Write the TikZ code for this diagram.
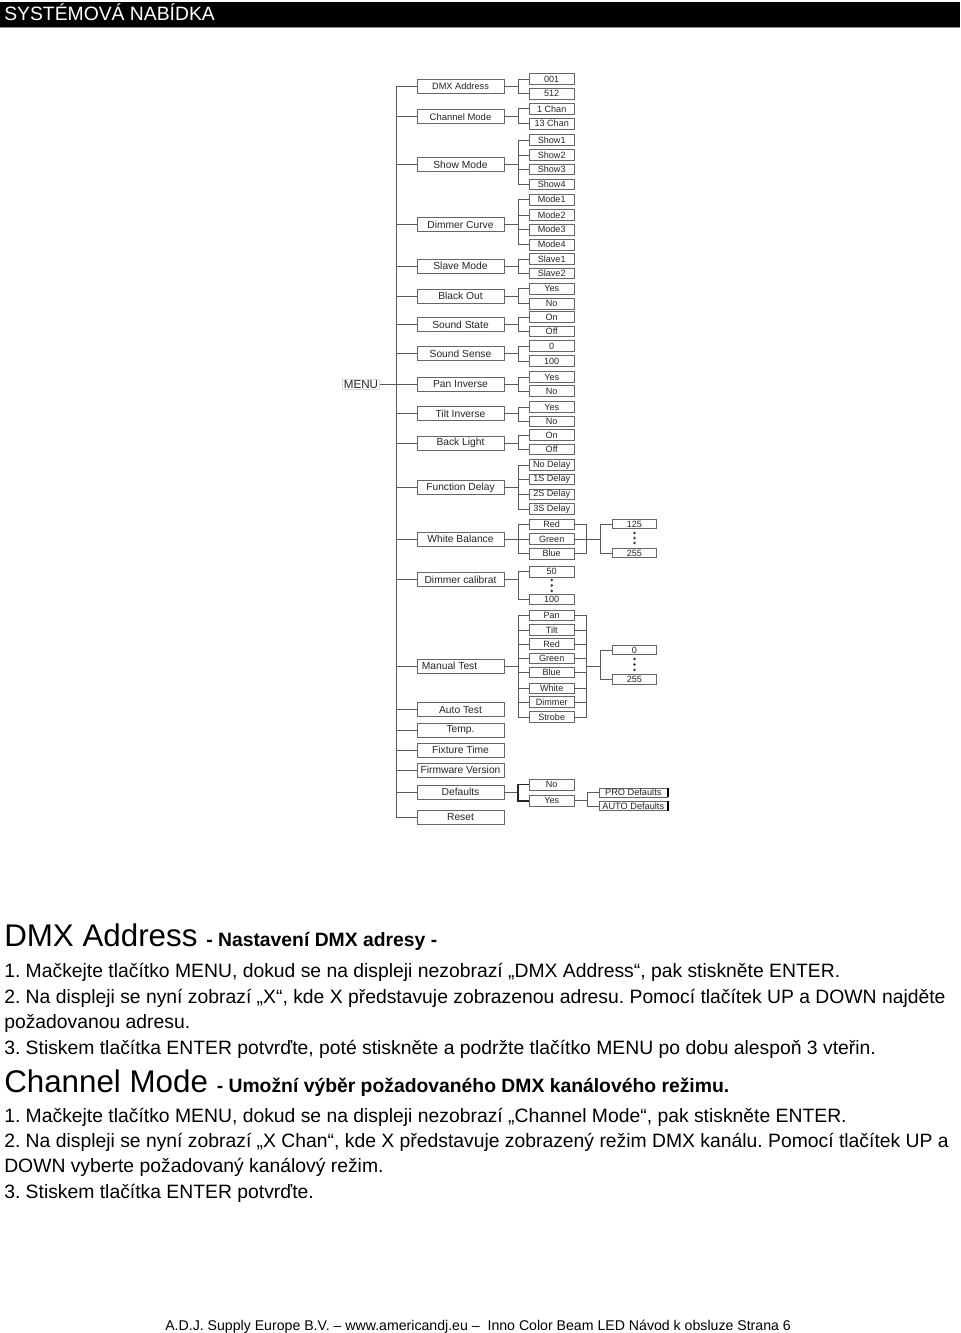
\documentclass[tikz,border=0pt]{standalone}
\usepackage{fontspec}
\setmainfont{Liberation Sans}
\frenchspacing
\begin{document}
\begin{tikzpicture}[x=0.75pt,y=-0.75pt,
  conn/.style={draw=black!65, line width=0.65pt},
  mainbox/.style={draw=black!60, line width=0.65pt, minimum width=65.25pt, minimum height=10.5pt, inner sep=0pt, text=black!85, font=\fontsize{7.7}{8}\selectfont},
  subbox/.style={draw=black!60, line width=0.65pt, minimum width=33.5pt, minimum height=8pt, inner sep=0pt, text=black!85, font=\fontsize{6.8}{7}\selectfont},
  thirdbox/.style={draw=black!60, line width=0.65pt, minimum width=33pt, minimum height=7.2pt, inner sep=0pt, text=black!85, font=\fontsize{6.8}{7}\selectfont},
  probox/.style={draw=black!60, line width=0.65pt, minimum width=51pt, minimum height=6.8pt, inner sep=0pt, text=black!85, font=\fontsize{6.9}{7}\selectfont},
  body/.style={anchor=base west, inner sep=0pt, font=\fontsize{14.5}{17}\selectfont},
  dot/.style={fill=black!80}
]
\useasboundingbox (0,0) rectangle (960,1333);
\fill[white] (0,0) rectangle (960,1333);
% header
\fill[black] (0,2) rectangle (960,27);
\draw[black!45, line width=0.8pt] (0,27.5) -- (960,27.5);
\node[body, text=white] (hdr) at (4,21) {SYSTÉMOVÁ NABÍDKA};

% MENU
\node[draw=black!15, line width=0.4pt, inner sep=1pt, text=black!85, font=\fontsize{8.7}{9}\selectfont] (menu) at (361,384.2) {MENU};

% main boxes
\foreach \n/\y/\t in {m3/164.7/Show Mode, m4/224.5/Dimmer Curve, m5/266.3/Slave Mode, m6/296.3/Black Out, m7/324.7/Sound State, m8/353.8/Sound Sense, m9/384.2/Pan Inverse, m10/413.7/Tilt Inverse, m11/443/Back Light, m12/487.5/Function Delay, m13/539.3/White Balance, m14/579.7/Dimmer calibrat, m16/709.7/Auto Test, m17/730.3/Temp., m18/750.3/Fixture Time, m19/770.3/Firmware Version, m20/792.3/Defaults, m21/817.5/Reset}
  \node[mainbox] (\n) at (460.5,\y) {\t};
\node[mainbox, font=\fontsize{6.9}{7}\selectfont] (m1) at (460.5,86.3) {DMX Address};
\node[mainbox, font=\fontsize{7.1}{7}\selectfont] (m2) at (460.5,116.7) {Channel Mode};
\node[mainbox] (m15) at (460.5,666) {\makebox[58pt][l]{Manual Test}};

% sub boxes
\foreach \n/\y/\t in {a1/79/001, a2/93.8/512, b1/108.8/1 Chan, b2/123.7/13 Chan,
  c1/140/Show1, c2/155/Show2, c3/169.3/Show3, c4/184.3/Show4,
  d1/199.7/Mode1, d2/215/Mode2, d3/229.7/Mode3, d4/244.7/Mode4,
  e1/259/Slave1, e2/273.3/Slave2, f1/288.7/Yes, f2/303.7/No,
  g1/317/On, g2/331.3/Off, h1/346/0, h2/361/100,
  i1/377/Yes, i2/391.2/No, j1/407/Yes, j2/421.5/No, k1/435/On, k2/449.3/Off,
  l1/465/No Delay, l2/479.3/1S Delay, l3/494.3/2S Delay, l4/509/3S Delay,
  n1/524.3/Red, n2/539/Green, n3/553.7/Blue, o1/571.7/50, o2/599.3/100,
  p1/615.5/Pan, p2/630/Tilt, p3/644/Red, p4/658.3/Green, p5/672.5/Blue, p6/688.3/White, p7/702/Dimmer, p8/717/Strobe,
  q1/784.7/No, q2/800.8/Yes}
  \node[subbox] (\n) at (551.7,\y) {\t};

% third column
\node[thirdbox] (t1) at (634.4,524) {125};
\node[thirdbox] (t2) at (634.4,553) {255};
\node[thirdbox] (u1) at (634.4,650) {0};
\node[thirdbox] (u2) at (634.4,679.5) {255};
\node[probox] (v1) at (633.3,792.5) {PRO Defaults};
\node[probox] (v2) at (633.3,806.2) {AUTO Defaults};
\draw[black, line width=1.6pt] (v1.north east) -- (v1.south east);
\draw[black, line width=1.6pt] (v2.north east) -- (v2.south east);

% dots
\foreach \yy in {533,538,543} \fill[dot] (634.4,\yy) circle (1.4);
\foreach \yy in {659,664.5,670} \fill[dot] (634.4,\yy) circle (1.4);
\foreach \yy in {580,585.5,591} \fill[dot] (551.7,\yy) circle (1.4);

% trunk
\coordinate (T) at (396,0);
\coordinate (B) at (518,0);
\coordinate (R) at (586,0);
\coordinate (C) at (600,0);
\coordinate (D) at (587,0);
\draw[conn] (m1.west) -- (m1.west -| T) -- (m21.west -| T) -- (m21.west);
\foreach \n in {m2,m3,m4,m5,m6,m7,m8,m9,m10,m11,m12,m13,m14,m15,m16,m17,m18,m19,m20}
  \draw[conn] (\n.west) -- (\n.west -| T);
\draw[conn] (menu.east) -- (menu.east -| T);

% sub buses
\foreach \m/\f/\l in {m1/a1/a2, m2/b1/b2, m3/c1/c4, m4/d1/d4, m5/e1/e2, m6/f1/f2, m7/g1/g2, m8/h1/h2, m9/i1/i2, m10/j1/j2, m11/k1/k2, m12/l1/l4, m13/n1/n3, m14/o1/o2, m15/p1/p8}
  {\draw[conn] (\m.east) -- (\m.east -| B);
   \draw[conn] (\f.west) -- (\f.west -| B) -- (\l.west -| B) -- (\l.west);}
\foreach \x in {c2,c3,d2,d3,l2,l3,n2,p2,p3,p4,p5,p6,p7}
  \draw[conn] (\x.west) -- (\x.west -| B);
\draw[conn] (m20.east) -- (m20.east -| B);
\draw[conn, line width=1.1pt, draw=black!85] (q1.west) -- (q1.west -| B) -- (q2.west -| B) -- (q2.west);

% right buses
\draw[conn] (n1.east) -- (n1.east -| R) -- (n3.east -| R) -- (n3.east);
\draw[conn] (n2.east) -- (n2.east -| C);
\draw[conn] (t1.west) -- (t1.west -| C) -- (t2.west -| C) -- (t2.west);
\draw[conn] (p1.east) -- (p1.east -| R) -- (p8.east -| R) -- (p8.east);
\foreach \x in {p2,p3,p4,p5,p6,p7}
  \draw[conn] (\x.east) -- (\x.east -| R);
\draw[conn] (m15.east -| R) -- (m15.east -| C);
\draw[conn] (u1.west) -- (u1.west -| C) -- (u2.west -| C) -- (u2.west);
\draw[conn] (q2.east) -- (q2.east -| D);
\draw[conn] (v1.west) -- (v1.west -| D) -- (v2.west -| D) -- (v2.west);

% text
\node[body] (h1) at (4,946) {{\fontsize{23.5}{28}\selectfont DMX Address }{\bfseries - Nastavení DMX adresy -}};
\node[body] (l1) at (4,977) {1. Mačkejte tlačítko MENU, dokud se na displeji nezobrazí „DMX Address“, pak stiskněte ENTER.};
\node[body] (l2) at (4,1003) {2. Na displeji se nyní zobrazí „X“, kde X představuje zobrazenou adresu. Pomocí tlačítek UP a DOWN najděte};
\node[body] (l3) at (4,1028.5) {požadovanou adresu.};
\node[body] (l4) at (4,1054) {3. Stiskem tlačítka ENTER potvrďte, poté stiskněte a podržte tlačítko MENU po dobu alespoň 3 vteřin.};
\node[body] (h2) at (4,1092) {{\fontsize{23.5}{28}\selectfont Channel Mode }{\bfseries - Umožní výběr požadovaného DMX kanálového režimu.}};
\node[body] (l5) at (4,1122) {1. Mačkejte tlačítko MENU, dokud se na displeji nezobrazí „Channel Mode“, pak stiskněte ENTER.};
\node[body] (l6) at (4,1147.5) {2. Na displeji se nyní zobrazí „X Chan“, kde X představuje zobrazený režim DMX kanálu. Pomocí tlačítek UP a};
\node[body] (l7) at (4,1172.5) {DOWN vyberte požadovaný kanálový režim.};
\node[body] (l8) at (4,1198) {3. Stiskem tlačítka ENTER potvrďte.};
\node[body, font=\fontsize{10.6}{12}\selectfont] (ft) at (165,1330) {A.D.J. Supply Europe B.V. – www.americandj.eu –\ \ Inno Color Beam LED Návod k obsluze Strana 6};
\end{tikzpicture}
\end{document}
